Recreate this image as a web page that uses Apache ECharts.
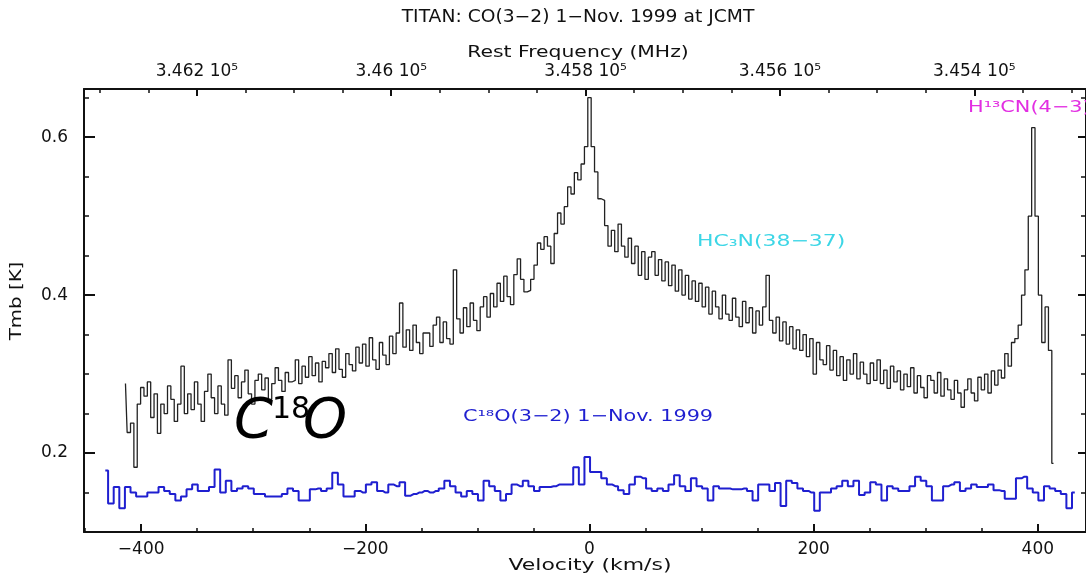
<!DOCTYPE html>
<html>
<head>
<meta charset="utf-8">
<script src="https://cdn.jsdelivr.net/npm/echarts@6/dist/echarts.min.js"></script>
<style>
html,body{margin:0;padding:0;background:#fff;}
#chart{width:1086px;height:580px;}
</style>
</head>
<body>
<div id="chart"></div>
<script>
// ---------------- data ----------------
// CO(3-2) spectrum (black), channels of 3 km/s starting at -414 km/s
const coStartVel = -414;
const coStepVel = 3;
const coTmb = [
  0.288,0.226,0.238,0.182,0.262,0.283,0.272,0.290,0.245,0.275,
  0.225,0.262,0.250,0.285,0.268,0.240,0.262,0.310,0.250,0.275,
  0.255,0.290,0.262,0.240,0.278,0.300,0.270,0.250,0.285,0.262,
  0.248,0.318,0.282,0.298,0.270,0.290,0.305,0.275,0.262,0.292,
  0.300,0.280,0.295,0.268,0.288,0.308,0.292,0.278,0.302,0.290,
  0.292,0.318,0.288,0.310,0.296,0.322,0.298,0.314,0.290,0.316,
  0.308,0.326,0.302,0.332,0.306,0.296,0.326,0.312,0.304,0.334,
  0.314,0.338,0.310,0.346,0.318,0.306,0.340,0.324,0.312,0.348,
  0.326,0.352,0.390,0.334,0.356,0.330,0.362,0.340,0.326,0.352,
  0.352,0.335,0.362,0.372,0.340,0.366,0.345,0.338,0.432,0.370,
  0.352,0.384,0.360,0.390,0.368,0.355,0.385,0.398,0.372,0.402,
  0.385,0.415,0.392,0.424,0.398,0.388,0.426,0.446,0.420,0.404,
  0.406,0.420,0.438,0.466,0.458,0.474,0.462,0.440,0.478,0.504,
  0.490,0.512,0.537,0.528,0.555,0.546,0.566,0.588,0.650,0.588,
  0.556,0.522,0.520,0.488,0.462,0.482,0.455,0.490,0.462,0.448,
  0.472,0.440,0.462,0.425,0.455,0.420,0.448,0.455,0.425,0.445,
  0.418,0.442,0.412,0.438,0.405,0.432,0.400,0.425,0.395,0.418,
  0.392,0.415,0.385,0.410,0.376,0.405,0.385,0.370,0.400,0.376,
  0.368,0.396,0.372,0.360,0.392,0.365,0.384,0.352,0.380,0.362,
  0.385,0.425,0.368,0.352,0.372,0.342,0.366,0.338,0.360,0.332,
  0.356,0.330,0.350,0.322,0.345,0.300,0.340,0.318,0.312,0.336,
  0.305,0.330,0.298,0.322,0.292,0.318,0.300,0.326,0.294,0.315,
  0.300,0.288,0.314,0.292,0.318,0.288,0.305,0.282,0.310,0.290,
  0.304,0.280,0.300,0.284,0.308,0.276,0.298,0.283,0.270,0.298,
  0.292,0.276,0.302,0.272,0.294,0.280,0.268,0.292,0.276,0.258,
  0.280,0.294,0.276,0.266,0.296,0.280,0.300,0.276,0.304,0.286,
  0.305,0.295,0.326,0.310,0.340,0.345,0.362,0.400,0.432,0.500,
  0.612,0.500,0.400,0.340,0.385,0.330,0.187
];

// C18O(3-2) spectrum (blue), channels of 5 km/s starting at -432 km/s
const c18oStartVel = -432;
const c18oStepVel = 5;
const c18oTmb = [
  0.178,0.136,0.157,0.130,0.157,0.150,0.145,0.145,0.150,0.150,
  0.157,0.152,0.148,0.140,0.145,0.154,0.160,0.152,0.152,0.157,
  0.179,0.150,0.165,0.152,0.155,0.158,0.155,0.148,0.148,0.145,
  0.145,0.145,0.148,0.155,0.152,0.140,0.140,0.154,0.155,0.152,
  0.155,0.175,0.160,0.145,0.145,0.152,0.150,0.160,0.163,0.152,
  0.150,0.160,0.158,0.163,0.146,0.148,0.150,0.152,0.150,0.152,
  0.155,0.165,0.158,0.150,0.145,0.152,0.148,0.140,0.165,0.158,
  0.152,0.140,0.148,0.160,0.158,0.165,0.158,0.152,0.157,0.157,
  0.158,0.160,0.160,0.160,0.182,0.160,0.195,0.176,0.176,0.168,
  0.160,0.158,0.153,0.148,0.160,0.170,0.168,0.155,0.152,0.155,
  0.152,0.160,0.172,0.158,0.152,0.168,0.158,0.155,0.140,0.158,
  0.155,0.155,0.154,0.154,0.155,0.152,0.140,0.160,0.160,0.152,
  0.162,0.133,0.165,0.162,0.155,0.152,0.150,0.127,0.150,0.150,
  0.155,0.158,0.165,0.158,0.165,0.147,0.150,0.163,0.160,0.140,
  0.158,0.155,0.152,0.152,0.158,0.170,0.165,0.158,0.140,0.140,
  0.158,0.160,0.163,0.152,0.155,0.160,0.157,0.157,0.160,0.153,
  0.152,0.142,0.142,0.168,0.170,0.155,0.150,0.140,0.158,0.155,
  0.152,0.148,0.130,0.150
];

// axis ticks
const velLabelTicks = [-400, -200, 0, 200, 400];
const velMinorTicks = [-450,-400,-350,-300,-250,-200,-150,-100,-50,0,50,100,150,200,250,300,350,400];
const tmbLabelTicks = [0.2, 0.4, 0.6];
const tmbMinorTicks = [0.15,0.2,0.25,0.3,0.35,0.4,0.45,0.5,0.55,0.6,0.65];
const freqLabelTicks = [346200, 346000, 345800, 345600, 345400];
const freqMinorTicks = [346300,346250,346200,346150,346100,346050,346000,345950,345900,345850,345800,
  345750,345700,345650,345600,345550,345500,345450,345400,345350,345300];

// physical constants for the top frequency axis
const REST_FREQ_MHZ = 345795.99;
const C_KMS = 299792.458;
const VEL_MIN = -451, VEL_MAX = 443;
const TMB_MIN = 0.1, TMB_MAX = 0.661;
const freqAt = v => REST_FREQ_MHZ * (1 - v / C_KMS);

// ---------------- chart ----------------
const coData = coTmb.map((t, i) => [coStartVel + i * coStepVel, t]);
const c18oData = c18oTmb.map((t, i) => [c18oStartVel + i * c18oStepVel, t]);

const FONT = 'DejaVu Sans';
const INK = '#111';
const lbl = {fontFamily: FONT, fontSize: 17, color: INK};

function minorX(pos, min, max, ticks, inverse) {
  return {type: 'value', position: pos, min: min, max: max, inverse: !!inverse,
    axisLine: {show: false, onZero: false}, splitLine: {show: false}, axisLabel: {show: false},
    axisTick: {show: true, inside: true, length: 4, customValues: ticks, lineStyle: {color: INK, width: 1.5}}};
}
function minorY(pos, ticks) {
  return {type: 'value', position: pos, min: TMB_MIN, max: TMB_MAX,
    axisLine: {show: false, onZero: false}, splitLine: {show: false}, axisLabel: {show: false},
    axisTick: {show: true, inside: true, length: 5, customValues: ticks, lineStyle: {color: INK, width: 1.5}}};
}
function txt(x, y, text, opts) {
  return Object.assign({type: 'text', x: x, y: y, z: 50,
    style: Object.assign({text: text, fontFamily: FONT, fontSize: 16, fill: INK,
      align: 'left', verticalAlign: 'middle'}, opts.style || {})}, opts.el || {});
}

const chart = echarts.init(document.getElementById('chart'), null, {renderer: 'canvas'});
chart.setOption({
  animation: false,
  backgroundColor: '#fff',
  grid: {left: 84, right: -1, top: 89, bottom: 48},
  xAxis: [
    {type: 'value', position: 'bottom', min: VEL_MIN, max: VEL_MAX,
      axisLine: {show: true, onZero: false, lineStyle: {color: INK, width: 2}},
      axisTick: {show: true, inside: true, length: 8, customValues: velLabelTicks, lineStyle: {color: INK, width: 2}},
      axisLabel: Object.assign({customValues: velLabelTicks, margin: 9,
        formatter: v => (v < 0 ? '\u2212' + Math.abs(v) : String(v))}, lbl),
      splitLine: {show: false}},
    minorX('bottom', VEL_MIN, VEL_MAX, velMinorTicks),
    {type: 'value', position: 'top', min: freqAt(VEL_MAX), max: freqAt(VEL_MIN), inverse: true,
      axisLine: {show: true, onZero: false, lineStyle: {color: INK, width: 2}},
      axisTick: {show: true, inside: true, length: 7, customValues: freqLabelTicks, lineStyle: {color: INK, width: 2}},
      axisLabel: Object.assign({customValues: freqLabelTicks, margin: 9,
        formatter: v => Number((v / 1e5).toFixed(4)) + ' 10\u2075'}, lbl),
      splitLine: {show: false}},
    minorX('top', freqAt(VEL_MAX), freqAt(VEL_MIN), freqMinorTicks, true)
  ],
  yAxis: [
    {type: 'value', position: 'left', min: TMB_MIN, max: TMB_MAX,
      axisLine: {show: true, onZero: false, lineStyle: {color: INK, width: 2}},
      axisTick: {show: true, inside: true, length: 11, customValues: tmbLabelTicks, lineStyle: {color: INK, width: 2}},
      axisLabel: Object.assign({customValues: tmbLabelTicks, margin: 16,
        formatter: v => v.toFixed(1)}, lbl),
      splitLine: {show: false}},
    minorY('left', tmbMinorTicks),
    {type: 'value', position: 'right', min: TMB_MIN, max: TMB_MAX,
      axisLine: {show: true, onZero: false, lineStyle: {color: INK, width: 2}},
      axisTick: {show: true, inside: true, length: 8, customValues: tmbLabelTicks, lineStyle: {color: INK, width: 2}},
      axisLabel: {show: false}, splitLine: {show: false}},
    minorY('right', tmbMinorTicks)
  ],
  series: [
    {name: 'CO(3-2)', type: 'line', xAxisIndex: 0, yAxisIndex: 0, step: 'middle',
      showSymbol: false, data: coData, lineStyle: {color: '#222', width: 1.3}, z: 3},
    {name: 'C18O(3-2)', type: 'line', xAxisIndex: 0, yAxisIndex: 0, step: 'middle',
      showSymbol: false, data: c18oData, lineStyle: {color: '#1f1fd0', width: 2}, z: 4}
  ],
  graphic: [
    txt(578, 18, 'TITAN: CO(3\u22122) 1\u2212Nov. 1999 at JCMT', {style: {fontSize: 17, align: 'center'}, el: {scaleX: 1.1}}),
    txt(578, 53, 'Rest Frequency (MHz)', {style: {fontSize: 16, align: 'center'}, el: {scaleX: 1.27}}),
    txt(590, 566, 'Velocity (km/s)', {style: {fontSize: 16, align: 'center'}, el: {scaleX: 1.37}}),
    txt(17, 301, 'Tmb [K]', {style: {fontSize: 15, align: 'center'}, el: {rotation: Math.PI / 2, scaleX: 1.32}}),
    txt(697, 242, 'HC\u2083N(38\u221237)', {style: {fill: '#3cd6e6'}, el: {scaleX: 1.37}}),
    txt(968, 108, 'H\u00b9\u00b3CN(4\u22123)', {style: {fill: '#e22ee2'}, el: {scaleX: 1.3}}),
    txt(463, 417, 'C\u00b9\u2078O(3\u22122) 1\u2212Nov. 1999', {style: {fill: '#1f1fd0'}, el: {scaleX: 1.3}}),
    txt(234, 422, 'C', {style: {fontSize: 56, fontStyle: 'italic', fill: '#000'}}),
    txt(272, 410, '18', {style: {fontSize: 30, fill: '#000'}}),
    txt(303, 422, 'O', {style: {fontSize: 56, fontStyle: 'italic', fill: '#000'}})
  ]
});
</script>
</body>
</html>
